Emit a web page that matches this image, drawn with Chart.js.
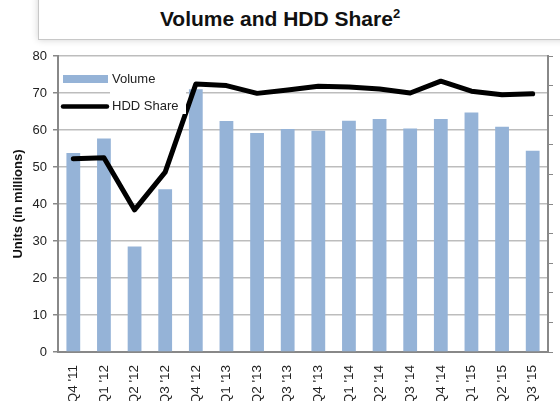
<!DOCTYPE html>
<html>
<head>
<meta charset="utf-8">
<script src="https://cdn.jsdelivr.net/npm/chart.js@4.4.0/dist/chart.umd.min.js"></script>
<style>
  html, body { margin: 0; padding: 0; background: #fff; overflow: hidden; }
  body { width: 560px; height: 401px; position: relative; font-family: "Liberation Sans", Arial, sans-serif; }
  #box { position: absolute; left: 38px; top: -6px; width: 560px; height: 44px; border: 1px solid #c8c8c8;
         box-shadow: 0 0 7px rgba(0,0,0,0.18); background: #fff; }
  #title { position: absolute; left: 0; top: 7px; width: 560px; text-align: center;
           font-weight: bold; font-size: 21px; color: #111; }
  #title sup { font-size: 13px; vertical-align: 8px; line-height: 0; }
  canvas { position: absolute; left: 0; top: 0; }
</style>
</head>
<body>
<div id="box"></div>
<div id="title">Volume and HDD Share<sup>2</sup></div>
<canvas id="volChart" width="560" height="401"></canvas>
<script>
// datos
const quarters = ["Q4 '11", "Q1 '12", "Q2 '12", "Q3 '12", "Q4 '12", "Q1 '13", "Q2 '13", "Q3 '13", "Q4 '13",
  "Q1 '14", "Q2 '14", "Q3 '14", "Q4 '14", "Q1 '15", "Q2 '15", "Q3 '15"];
const volume = [53.8, 57.7, 28.5, 44, 71, 62.4, 59.2, 60.3, 59.8, 62.5, 63, 60.4, 63, 64.7, 60.9, 54.4];
const hddShare = [52.2, 52.5, 38.4, 48.6, 72.4, 72, 69.9, 70.8, 71.8, 71.6, 71.1, 70, 73.2, 70.5, 69.5, 69.8];
const yTicks = [0, 10, 20, 30, 40, 50, 60, 70, 80];

const font = "'Liberation Sans', Arial, sans-serif";
const barColor = '#95b3d7';

// leyenda dentro del area del grafico
const insideLegend = {
  id: 'insideLegend',
  afterDraw(chart) {
    const c = chart.ctx;
    const ds = chart.data.datasets;
    c.save();
    c.fillStyle = '#fff';
    c.fillRect(110, 70, 76, 44);
    c.fillStyle = barColor;
    c.fillRect(63, 75, 45, 8);
    c.strokeStyle = '#000';
    c.lineWidth = 4.5;
    c.lineCap = 'round';
    c.beginPath();
    c.moveTo(63, 106.5);
    c.lineTo(107, 106.5);
    c.stroke();
    c.fillStyle = '#222';
    c.font = '13px ' + font;
    c.textBaseline = 'middle';
    c.fillText(ds[1].label, 112, 79);
    c.fillText(ds[0].label, 112, 106.5);
    c.restore();
  }
};

const ctx = document.getElementById('volChart').getContext('2d');

new Chart(ctx, {
  type: 'bar',
  data: {
    labels: quarters,
    datasets: [
      {
        type: 'line',
        label: 'HDD Share',
        data: hddShare,
        yAxisID: 'y',
        borderColor: '#000',
        borderWidth: 5,
        pointRadius: 0,
        tension: 0,
        borderJoinStyle: 'round',
        borderCapStyle: 'round',
        order: 0,
      },
      {
        label: 'Volume',
        data: volume,
        yAxisID: 'y',
        backgroundColor: barColor,
        barPercentage: 0.45,
        categoryPercentage: 1,
        order: 1,
      },
    ],
  },
  options: {
    responsive: false,
    animation: false,
    layout: { padding: { top: 56, left: 0, right: 0, bottom: 0 } },
    plugins: { legend: { display: false }, tooltip: { enabled: false } },
    scales: {
      x: {
        offset: true,
        grid: { display: false },
        border: { color: '#888', width: 2 },
        ticks: {
          minRotation: 90,
          maxRotation: 90,
          padding: 5,
          color: '#222',
          font: { family: font, size: 13.5 },
        },
        afterFit(scale) { scale.height = 49; },
      },
      y: {
        min: 0,
        max: 80,
        afterBuildTicks(scale) { scale.ticks = yTicks.map(v => ({ value: v })); },
        grid: {
          color: '#bdbdbd',
          lineWidth: 1.5,
          borderDash: [5, 4],
          tickBorderDash: [],
          tickColor: '#888',
          tickLength: 5,
        },
        border: { color: '#888', width: 2 },
        ticks: { color: '#222', padding: 6, font: { family: font, size: 13 } },
        title: {
          display: true,
          text: 'Units (in millions)',
          color: '#111',
          font: { family: font, size: 13, weight: 'bold' },
          padding: { top: 11, bottom: 0 },
        },
        afterFit(scale) { scale.width = 58; },
      },
      y1: {
        position: 'right',
        min: 0,
        max: 100,
        ticks: { stepSize: 10, color: '#222', padding: 8, font: { family: font, size: 13 }, callback: v => v + '%' },
        grid: { drawOnChartArea: false, tickLength: 5, tickColor: '#888' },
        border: { color: '#888', width: 2 },
        afterFit(scale) { scale.width = 12; },
      },
    },
  },
  plugins: [insideLegend],
});
</script>
</body>
</html>
